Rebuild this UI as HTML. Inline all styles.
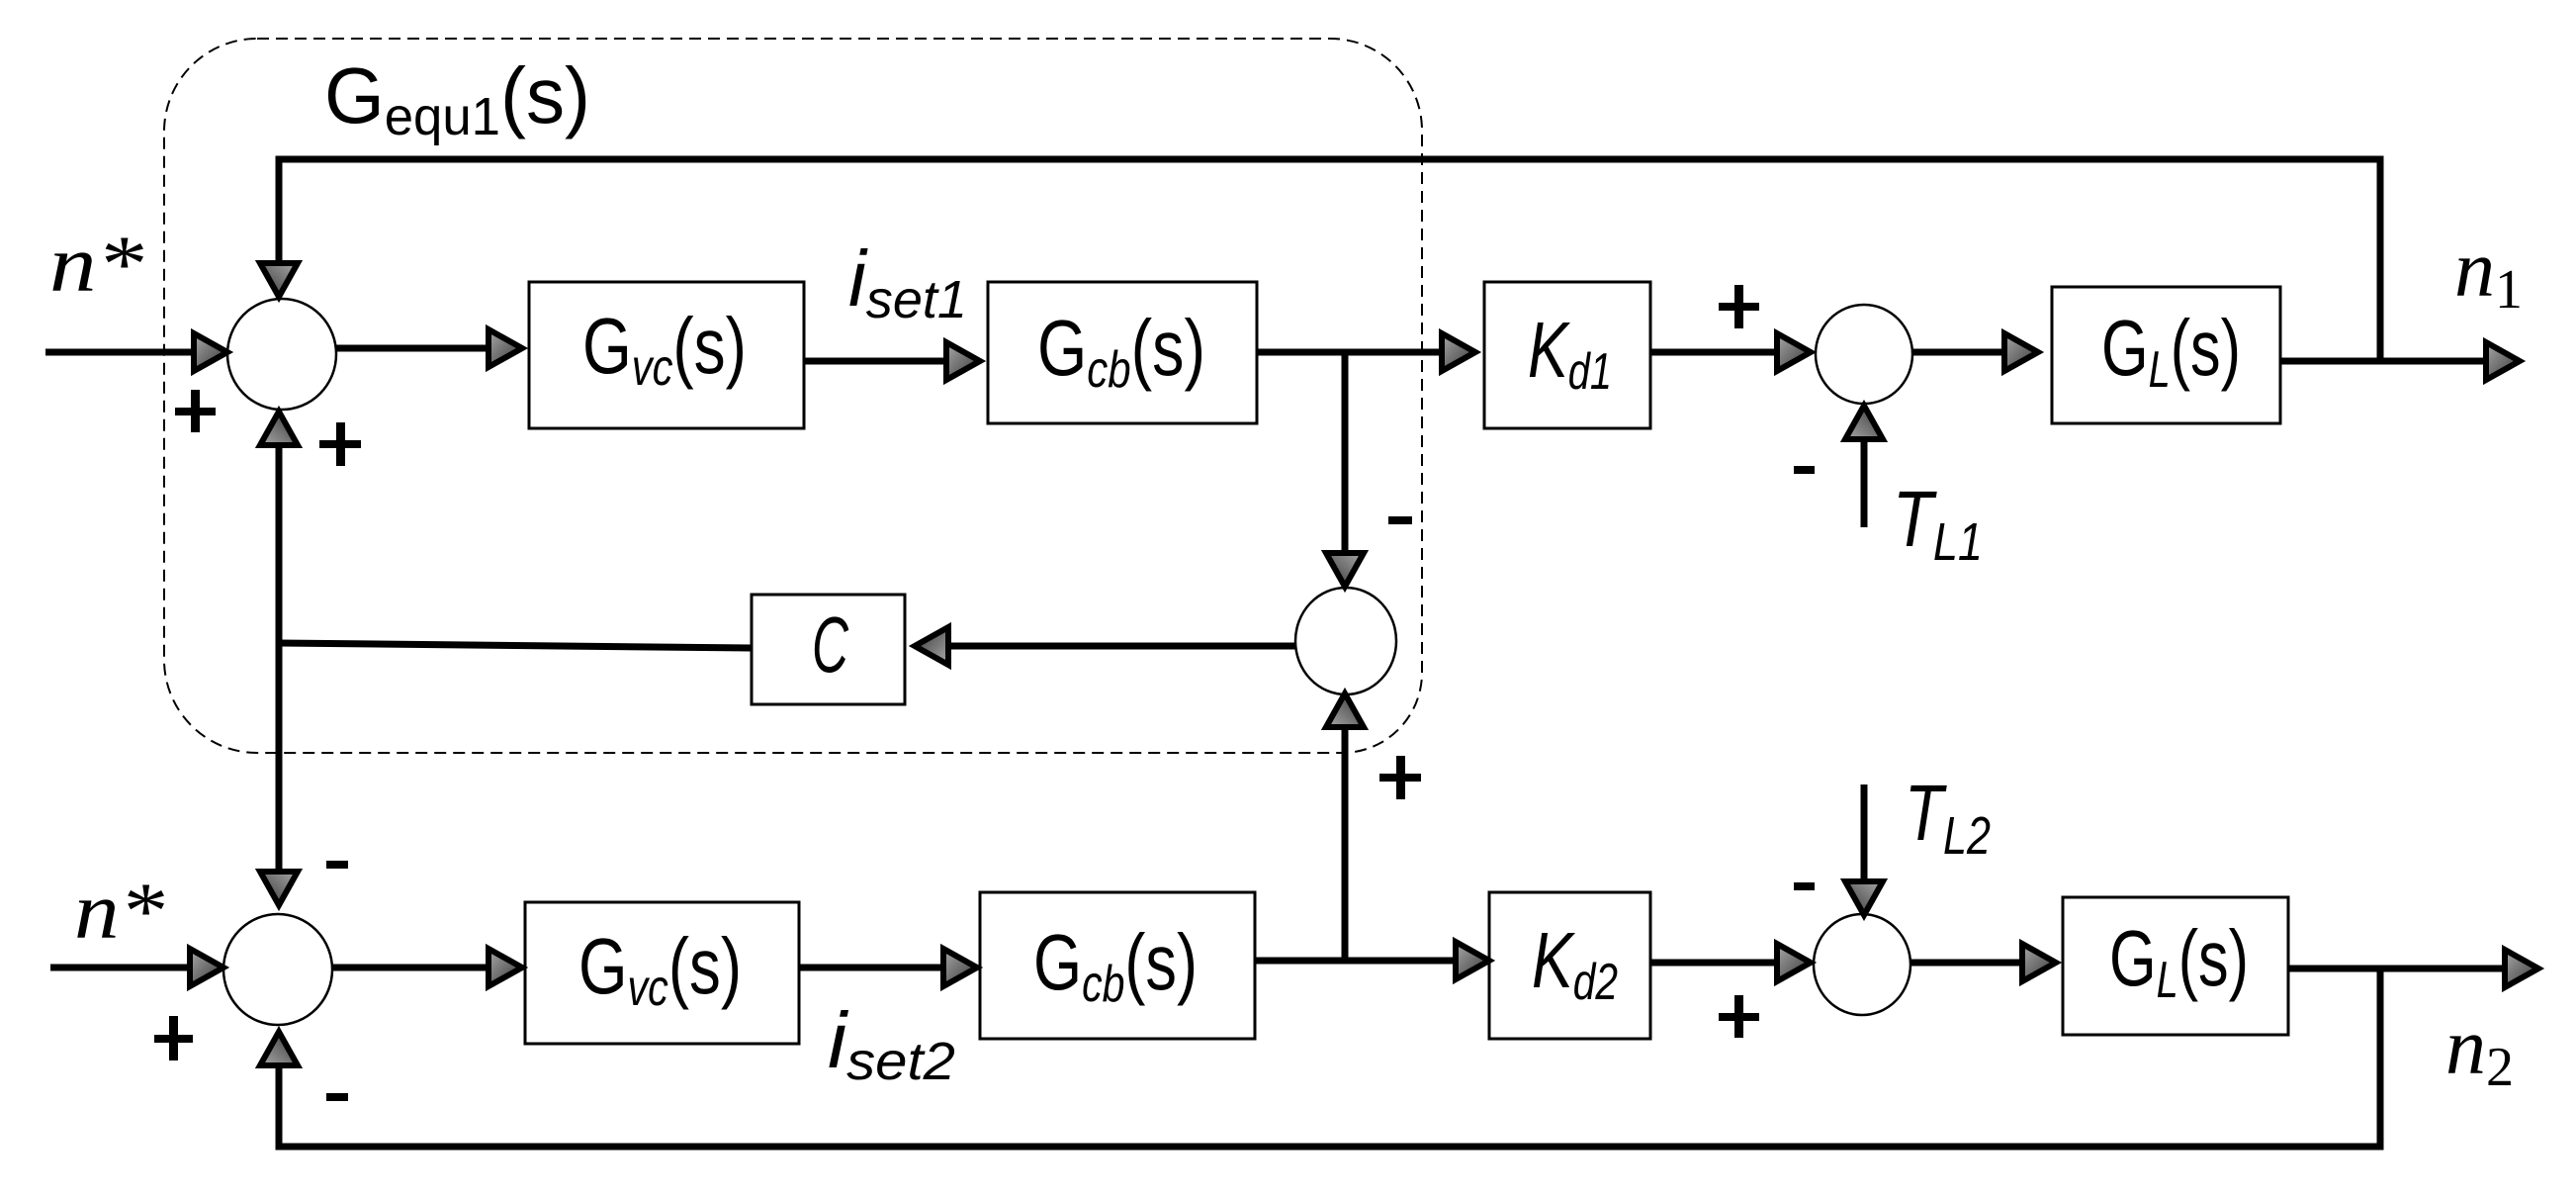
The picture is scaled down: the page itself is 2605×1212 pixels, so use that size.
<!DOCTYPE html>
<html><head><meta charset="utf-8"><style>html,body{margin:0;padding:0;background:#fff}svg{display:block}</style></head><body>
<svg width="2605" height="1212" viewBox="0 0 2605 1212" xmlns="http://www.w3.org/2000/svg">
<defs>
<linearGradient id="g" x1="0" y1="0" x2="1" y2="1"><stop offset="0" stop-color="#aaa"/><stop offset="1" stop-color="#333"/></linearGradient>
<polygon id="ar" points="0,0 -34,-19 -34,19" fill="url(#g)" stroke="#000" stroke-width="6" stroke-linejoin="miter"/>
</defs>
<path d="M260,39 H1345 A93,93 0 0 1 1438,132 V680 A81,81 0 0 1 1357,761 H260 A94,94 0 0 1 166,667 V132 A94,94 0 0 1 260,39 Z" fill="none" stroke="#000" stroke-width="2" stroke-dasharray="12,7"/>
<g fill="none" stroke="#000" stroke-width="7">
<path d="M282,296 V161 H2407 V365"/>
<path d="M46,356 H222"/>
<path d="M340,352 H520"/>
<path d="M813,365 H983"/>
<path d="M1271,356 H1484"/>
<path d="M1360,356 V585"/>
<path d="M1669,356 H1823"/>
<path d="M1934,356 H2053"/>
<path d="M2306,365 H2540"/>
<path d="M1885,533 V418"/>
<path d="M282,419 V907"/>
<path d="M760,655 L282,650"/>
<path d="M1310,653 H933"/>
<path d="M1360,971 V709"/>
<path d="M51,978 H218"/>
<path d="M336,978 H520"/>
<path d="M808,978 H980"/>
<path d="M1269,971 H1498"/>
<path d="M1669,973 H1823"/>
<path d="M1885,793 V917"/>
<path d="M1932,973 H2071"/>
<path d="M2314,979 H2559"/>
<path d="M2407,979 V1159 H282 V1051"/>
</g>
<g fill="#fff" stroke="#000" stroke-width="3">
<rect x="535" y="285" width="278" height="148"/>
<rect x="999" y="285" width="272" height="143"/>
<rect x="1501" y="285" width="168" height="148"/>
<rect x="2075" y="290" width="231" height="138"/>
<rect x="760" y="601" width="155" height="111"/>
<rect x="531" y="912" width="277" height="143"/>
<rect x="991" y="902" width="278" height="148"/>
<rect x="1506" y="902" width="163" height="148"/>
<rect x="2086" y="907" width="228" height="139"/>
</g>
<g fill="#fff" stroke="#000" stroke-width="2.5">
<ellipse cx="285" cy="358" rx="55" ry="56"/>
<ellipse cx="1885" cy="358" rx="49" ry="50"/>
<ellipse cx="1361" cy="648" rx="51" ry="54"/>
<ellipse cx="281" cy="980" rx="55" ry="56"/>
<ellipse cx="1883" cy="975" rx="49" ry="51"/>
</g>
<use href="#ar" transform="translate(282,300) rotate(90)"/>
<use href="#ar" transform="translate(230,356)"/>
<use href="#ar" transform="translate(528,352)"/>
<use href="#ar" transform="translate(991,365)"/>
<use href="#ar" transform="translate(1492,356)"/>
<use href="#ar" transform="translate(1831,356)"/>
<use href="#ar" transform="translate(1885,410) rotate(-90)"/>
<use href="#ar" transform="translate(2061,356)"/>
<use href="#ar" transform="translate(2548,365)"/>
<use href="#ar" transform="translate(282,416) rotate(-90)"/>
<use href="#ar" transform="translate(1360,593) rotate(90)"/>
<use href="#ar" transform="translate(1360,701) rotate(-90)"/>
<use href="#ar" transform="translate(925,653) rotate(180)"/>
<use href="#ar" transform="translate(282,915) rotate(90)"/>
<use href="#ar" transform="translate(226,978)"/>
<use href="#ar" transform="translate(528,978)"/>
<use href="#ar" transform="translate(988,978)"/>
<use href="#ar" transform="translate(1506,971)"/>
<use href="#ar" transform="translate(1831,973)"/>
<use href="#ar" transform="translate(1885,925) rotate(90)"/>
<use href="#ar" transform="translate(2079,973)"/>
<use href="#ar" transform="translate(2567,979)"/>
<use href="#ar" transform="translate(282,1043) rotate(-90)"/>
<g font-family="Liberation Sans, sans-serif" fill="#000">
<text x="328" y="124" font-size="80" textLength="269" lengthAdjust="spacingAndGlyphs">G<tspan font-size="54" dy="12">equ1</tspan><tspan dy="-12">(s)</tspan></text>
<text x="589" y="377" font-size="80" textLength="166" lengthAdjust="spacingAndGlyphs">G<tspan font-size="52" font-style="italic" dy="12">vc</tspan><tspan dy="-12">(s)</tspan></text>
<text x="1049" y="379" font-size="80" textLength="170" lengthAdjust="spacingAndGlyphs">G<tspan font-size="52" font-style="italic" dy="12">cb</tspan><tspan dy="-12">(s)</tspan></text>
<text x="1545" y="381" font-size="80" font-style="italic" textLength="85" lengthAdjust="spacingAndGlyphs">K<tspan font-size="52" dy="12">d1</tspan></text>
<text x="2125" y="379" font-size="80" textLength="141" lengthAdjust="spacingAndGlyphs">G<tspan font-size="52" font-style="italic" dy="12">L</tspan><tspan dy="-12">(s)</tspan></text>
<text x="821" y="679" font-size="80" font-style="italic" textLength="37" lengthAdjust="spacingAndGlyphs">C</text>
<text x="585" y="1004" font-size="80" textLength="165" lengthAdjust="spacingAndGlyphs">G<tspan font-size="52" font-style="italic" dy="12">vc</tspan><tspan dy="-12">(s)</tspan></text>
<text x="1045" y="1000" font-size="80" textLength="166" lengthAdjust="spacingAndGlyphs">G<tspan font-size="52" font-style="italic" dy="12">cb</tspan><tspan dy="-12">(s)</tspan></text>
<text x="1549" y="998" font-size="80" font-style="italic" textLength="87" lengthAdjust="spacingAndGlyphs">K<tspan font-size="52" dy="12">d2</tspan></text>
<text x="2133" y="996" font-size="80" textLength="141" lengthAdjust="spacingAndGlyphs">G<tspan font-size="52" font-style="italic" dy="12">L</tspan><tspan dy="-12">(s)</tspan></text>
<text x="858" y="309" font-size="80" font-style="italic" textLength="120" lengthAdjust="spacingAndGlyphs">i<tspan font-size="54" dy="12">set1</tspan></text>
<text x="837" y="1079" font-size="80" font-style="italic" textLength="129" lengthAdjust="spacingAndGlyphs">i<tspan font-size="54" dy="12">set2</tspan></text>
<text x="1914" y="552" font-size="80" font-style="italic" textLength="91" lengthAdjust="spacingAndGlyphs">T<tspan font-size="54" dy="14">L1</tspan></text>
<text x="1926" y="849" font-size="80" font-style="italic" textLength="87" lengthAdjust="spacingAndGlyphs">T<tspan font-size="54" dy="14">L2</tspan></text>
</g>
<g font-family="Liberation Serif, serif" font-style="italic" fill="#000">
<text x="50" y="294" font-size="82" textLength="95" lengthAdjust="spacingAndGlyphs">n*</text>
<text x="75" y="948" font-size="82" textLength="91" lengthAdjust="spacingAndGlyphs">n*</text>
<text x="2482" y="299" font-size="82">n<tspan font-style="normal" font-size="56" dy="12">1</tspan></text>
<text x="2473" y="1085" font-size="82">n<tspan font-style="normal" font-size="56" dy="12">2</tspan></text>
</g>
<g fill="#000">
<rect x="177" y="412" width="41" height="8"/><rect x="193" y="394" width="9" height="43"/>
<rect x="323" y="445" width="42" height="8"/><rect x="340" y="427" width="9" height="44"/>
<rect x="1738" y="306" width="41" height="8"/><rect x="1754" y="288" width="9" height="44"/>
<rect x="1814" y="471" width="21" height="8"/>
<rect x="1404" y="522" width="24" height="8"/>
<rect x="1395" y="782" width="42" height="8"/><rect x="1412" y="764" width="9" height="44"/>
<rect x="330" y="870" width="22" height="8"/>
<rect x="156" y="1046" width="39" height="8"/><rect x="171" y="1027" width="9" height="45"/>
<rect x="330" y="1105" width="22" height="8"/>
<rect x="1738" y="1024" width="41" height="8"/><rect x="1754" y="1006" width="9" height="43"/>
<rect x="1814" y="892" width="21" height="8"/>
</g>
</svg>
</body></html>
